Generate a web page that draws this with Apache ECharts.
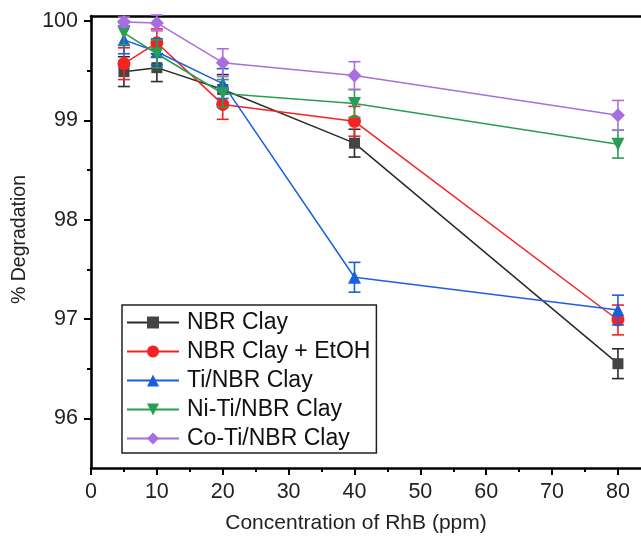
<!DOCTYPE html>
<html>
<head>
<meta charset="utf-8">
<script src="https://cdn.jsdelivr.net/npm/echarts@6/dist/echarts.min.js"></script>
<style>
  html, body { margin: 0; padding: 0; background: #fff; }
  #chart { width: 641px; height: 545px; }
</style>
</head>
<body>
<div id="chart"></div>
<script>
// ---- data ----
var concentrations = [5, 10, 20, 40, 80];
var seriesNames = ['NBR Clay', 'NBR Clay + EtOH', 'Ti/NBR Clay', 'Ni-Ti/NBR Clay', 'Co-Ti/NBR Clay'];
var nbrClay      = [99.49, 99.53, 99.31, 98.77, 96.55];
var nbrClayErr   = [0.15, 0.14, 0.15, 0.14, 0.15];
var nbrEtoh      = [99.57, 99.78, 99.16, 98.99, 96.99];
var nbrEtohErr   = [0.16, 0.14, 0.15, 0.15, 0.15];
var tiNbr        = [99.81, 99.69, 99.37, 97.42, 97.09];
var tiNbrErr     = [0.14, 0.13, 0.15, 0.15, 0.15];
var niTiNbr      = [99.88, 99.67, 99.27, 99.17, 98.76];
var niTiNbrErr   = [0.12, 0.14, 0.14, 0.14, 0.14];
var coTiNbr      = [99.99, 99.98, 99.58, 99.45, 99.05];
var coTiNbrErr   = [0.05, 0.08, 0.14, 0.14, 0.15];
var xTickLabels  = [0, 10, 20, 30, 40, 50, 60, 70, 80];
var xMinorTicks  = [5, 15, 25, 35, 45, 55, 65, 75];
var yTickLabels  = [96, 97, 98, 99, 100];
var yMinorTicks  = [96.5, 97.5, 98.5, 99.5];

var values = [nbrClay, nbrEtoh, tiNbr, niTiNbr, coTiNbr];
var errors = [nbrClayErr, nbrEtohErr, tiNbrErr, niTiNbrErr, coTiNbrErr];
var colors = ['#2b2b2b', '#f52222', '#1b5ee0', '#2a9d55', '#a86ee0'];
var symbolColors = ['#444444', '#f52222', '#1b5ee0', '#2a9d55', '#a86ee0'];
var symbols = ['rect', 'circle', 'triangle', 'triangle', 'diamond'];
var symbolSizes = [11, 13, 13, 13, 14];
var symbolRotates = [0, 0, 0, 180, 0];

var FONT = 'Liberation Sans, Arial, sans-serif';

var series = [];
for (var i = 0; i < values.length; i++) {
  (function (i) {
    var errData = concentrations.map(function (x, k) {
      return [x, values[i][k] - errors[i][k], values[i][k] + errors[i][k]];
    });
    series.push({
      type: 'custom',
      name: seriesNames[i] + ' err',
      xAxisIndex: 0, yAxisIndex: 0,
      z: 2 + i * 2,
      silent: true,
      renderItem: function (params, api) {
        var x = api.value(0);
        var lo = api.coord([x, api.value(1)]);
        var hi = api.coord([x, api.value(2)]);
        var hw = 6;
        var st = { stroke: colors[i], lineWidth: 1.6 };
        return {
          type: 'group',
          children: [
            { type: 'line', shape: { x1: lo[0], y1: lo[1], x2: hi[0], y2: hi[1] }, style: st },
            { type: 'line', shape: { x1: lo[0] - hw, y1: lo[1], x2: lo[0] + hw, y2: lo[1] }, style: st },
            { type: 'line', shape: { x1: hi[0] - hw, y1: hi[1], x2: hi[0] + hw, y2: hi[1] }, style: st }
          ]
        };
      },
      encode: { x: 0, y: [1, 2] },
      data: errData
    });
    series.push({
      type: 'line',
      name: seriesNames[i],
      xAxisIndex: 0, yAxisIndex: 0,
      z: 3 + i * 2,
      data: concentrations.map(function (x, k) { return [x, values[i][k]]; }),
      symbol: symbols[i],
      symbolSize: symbolSizes[i],
      symbolRotate: symbolRotates[i],
      showAllSymbol: true,
      lineStyle: { color: colors[i], width: 1.5 },
      itemStyle: { color: symbolColors[i], borderWidth: 0 },
      animation: false
    });
  })(i);
}

var chart = echarts.init(document.getElementById('chart'), null, { renderer: 'canvas' });
chart.setOption({
  animation: false,
  backgroundColor: '#ffffff',
  textStyle: { fontFamily: FONT },
  grid: { left: 91, top: 16, width: 551, height: 452, show: false },
  legend: {
    data: seriesNames,
    orient: 'vertical',
    left: 122, top: 305,
    itemWidth: 52, itemHeight: 15,
    itemGap: 6,
    padding: [6, 6, 3, 4],
    borderColor: '#222', borderWidth: 1.5,
    backgroundColor: '#fff',
    textStyle: { fontFamily: FONT, fontSize: 23, color: '#111', lineHeight: 22, padding: [0, 0, 0, 3] }
  },
  xAxis: [
    {
      type: 'value', min: 0, max: 83.5, position: 'bottom',
      axisLine: { show: true, onZero: false, lineStyle: { color: '#000', width: 2.6 } },
      axisTick: { show: true, customValues: xTickLabels, length: 7, lineStyle: { color: '#000', width: 2 } },
      axisLabel: { customValues: xTickLabels, fontSize: 21.5, color: '#222', margin: 13, fontFamily: FONT },
      splitLine: { show: false },
      name: 'Concentration of RhB (ppm)', nameLocation: 'middle', nameGap: 45,
      nameTextStyle: { fontSize: 21, color: '#222', fontFamily: FONT, padding: [0, 20, 0, 0] }
    },
    {
      type: 'value', min: 0, max: 83.5, position: 'bottom',
      axisLine: { show: false },
      axisTick: { show: true, customValues: xMinorTicks, length: 4, lineStyle: { color: '#000', width: 2 } },
      axisLabel: { show: false },
      splitLine: { show: false }
    },
    {
      type: 'value', min: 0, max: 83.5, position: 'top',
      axisLine: { show: true, onZero: false, lineStyle: { color: '#000', width: 2.6 } },
      axisTick: { show: false }, axisLabel: { show: false }, splitLine: { show: false }
    }
  ],
  yAxis: [
    {
      type: 'value', min: 95.5, max: 100.05, position: 'left',
      axisLine: { show: true, onZero: false, lineStyle: { color: '#000', width: 2.6 } },
      axisTick: { show: true, customValues: yTickLabels, length: 7, lineStyle: { color: '#000', width: 2 } },
      axisLabel: { customValues: yTickLabels, fontSize: 21.5, color: '#222', margin: 13, fontFamily: FONT },
      splitLine: { show: false },
      name: '% Degradation', nameLocation: 'middle', nameGap: 61,
      nameTextStyle: { fontSize: 19.5, color: '#222', fontFamily: FONT, padding: [0, 0, 0, 5] }
    },
    {
      type: 'value', min: 95.5, max: 100.05, position: 'left', offset: 0,
      axisLine: { show: false },
      axisTick: { show: true, customValues: yMinorTicks, length: 4, lineStyle: { color: '#000', width: 2 } },
      axisLabel: { show: false },
      splitLine: { show: false }
    }
  ],
  series: series
});
</script>
</body>
</html>
